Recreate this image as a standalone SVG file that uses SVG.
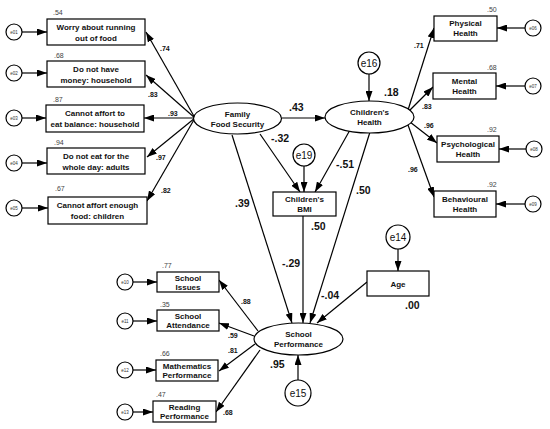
<svg xmlns="http://www.w3.org/2000/svg" width="550" height="429" viewBox="0 0 550 429">
<defs>
<marker id="ah" markerUnits="userSpaceOnUse" markerWidth="10" markerHeight="7" refX="10" refY="3.5" orient="auto">
<path d="M0,0 L10,3.5 L0,7 z" fill="#000"/>
</marker>
<style>
.b{fill:#fff;stroke:#000;stroke-width:1.2}
.t{font-family:"Liberation Sans",Arial,sans-serif;font-size:8px;font-weight:bold;text-anchor:middle;fill:#111}
.e{font-family:"Liberation Sans",Arial,sans-serif;font-size:4.5px;text-anchor:middle;fill:#333}
.E{font-family:"Liberation Sans",Arial,sans-serif;font-size:10px;text-anchor:middle;fill:#111}
.r{font-family:"Liberation Sans",Arial,sans-serif;font-size:7px;fill:#444}
.s{font-family:"Liberation Sans",Arial,sans-serif;font-size:7px;font-weight:bold;fill:#111}
.L{font-family:"Liberation Sans",Arial,sans-serif;font-size:10.5px;font-weight:bold;fill:#111}
.c line{stroke:#000;stroke-width:1.2;marker-end:url(#ah)}
</style>
</defs>
<rect width="550" height="429" fill="#fff"/>

<g class="c" id="connectors">
<line x1="22" y1="32" x2="47" y2="32"/>
<line x1="22" y1="73" x2="47" y2="73"/>
<line x1="22" y1="118" x2="46" y2="118"/>
<line x1="22" y1="163" x2="47" y2="163"/>
<line x1="22" y1="208" x2="48" y2="208"/>
<line x1="195" y1="118" x2="146" y2="32"/>
<line x1="195" y1="118" x2="146" y2="75"/>
<line x1="195" y1="118" x2="144" y2="118"/>
<line x1="195" y1="118" x2="147" y2="157"/>
<line x1="195" y1="118" x2="147" y2="201"/>
<line x1="282" y1="118" x2="325" y2="118"/>
<line x1="369" y1="74" x2="369" y2="101"/>
<line x1="408" y1="110" x2="434" y2="28"/>
<line x1="408" y1="112" x2="433" y2="87"/>
<line x1="410" y1="122" x2="437" y2="143"/>
<line x1="408" y1="125" x2="434" y2="197"/>
<line x1="525" y1="28" x2="497" y2="28"/>
<line x1="525" y1="86" x2="496" y2="86"/>
<line x1="526" y1="149" x2="499" y2="149"/>
<line x1="525" y1="204" x2="496" y2="204"/>
<line x1="304" y1="166" x2="304" y2="192"/>
<line x1="260" y1="134" x2="300" y2="192"/>
<line x1="350" y1="130" x2="315" y2="192"/>
<line x1="232" y1="135" x2="292" y2="323"/>
<line x1="370" y1="132" x2="310" y2="323"/>
<line x1="303" y1="216" x2="303" y2="323"/>
<line x1="367" y1="282" x2="317" y2="323"/>
<line x1="398" y1="249" x2="398" y2="271"/>
<line x1="298" y1="380" x2="298" y2="355"/>
<line x1="258" y1="331" x2="219" y2="280"/>
<line x1="254" y1="336" x2="219" y2="323"/>
<line x1="255" y1="344" x2="219" y2="371"/>
<line x1="260" y1="350" x2="216" y2="412"/>
<line x1="133" y1="282" x2="157" y2="282"/>
<line x1="133" y1="321" x2="157" y2="321"/>
<line x1="133" y1="370" x2="156" y2="370"/>
<line x1="133" y1="412" x2="153" y2="412"/>
</g>

<g id="labels">
<text class="s" x="160" y="51">.74</text>
<text class="s" x="148" y="97">.83</text>
<text class="s" x="168" y="116">.93</text>
<text class="s" x="156" y="160">.97</text>
<text class="s" x="161" y="193">.82</text>
<text class="L" x="289" y="111">.43</text>
<text class="L" x="384" y="96">.18</text>
<text class="s" x="414" y="48">.71</text>
<text class="s" x="422" y="109">.83</text>
<text class="s" x="424" y="128">.96</text>
<text class="s" x="408" y="172">.96</text>
<text class="L" x="271" y="142">-.32</text>
<text class="L" x="336" y="168">-.51</text>
<text class="L" x="356" y="194">.50</text>
<text class="L" x="235" y="207">.39</text>
<text class="L" x="311" y="230">.50</text>
<text class="L" x="282" y="267">-.29</text>
<text class="L" x="321" y="299">-.04</text>
<text class="L" x="405" y="309">.00</text>
<text class="L" x="270" y="368">.95</text>
<text class="s" x="241" y="304">.88</text>
<text class="s" x="228" y="338">.59</text>
<text class="s" x="228" y="353">.81</text>
<text class="s" x="223" y="415">.68</text>
</g>

<g id="n1"><circle class="b" cx="14" cy="32" r="8"/><text class="e" x="14" y="33.6">e01</text><rect class="b" x="47" y="19" width="98" height="26"/><text class="t" x="96" y="30">Worry about running</text><text class="t" x="96" y="41">out of food</text><text class="r" x="53" y="15">.54</text></g>
<g id="n2"><circle class="b" cx="14" cy="73" r="8"/><text class="e" x="14" y="74.6">e02</text><rect class="b" x="47" y="61" width="98" height="26"/><text class="t" x="96" y="72">Do not have</text><text class="t" x="96" y="83">money: household</text><text class="r" x="54" y="58">.68</text></g>
<g id="n3"><circle class="b" cx="14" cy="118" r="8"/><text class="e" x="14" y="119.6">e03</text><rect class="b" x="46" y="105" width="98" height="27"/><text class="t" x="95" y="116">Cannot affort to</text><text class="t" x="95" y="127">eat balance: household</text><text class="r" x="53" y="102">.87</text></g>
<g id="n4"><circle class="b" cx="14" cy="163" r="8"/><text class="e" x="14" y="164.6">e04</text><rect class="b" x="47" y="148" width="98" height="26"/><text class="t" x="96" y="159">Do not eat for the</text><text class="t" x="96" y="170">whole day: adults</text><text class="r" x="54" y="145">.94</text></g>
<g id="n5"><circle class="b" cx="14" cy="208" r="8"/><text class="e" x="14" y="209.6">e05</text><rect class="b" x="48" y="197" width="99" height="27"/><text class="t" x="97.5" y="208">Cannot affort enough</text><text class="t" x="97.5" y="219">food: children</text><text class="r" x="55" y="191">.67</text></g>

<g id="ffs"><ellipse class="b" cx="237.5" cy="118.5" rx="44" ry="15.5"/><text class="t" x="237.5" y="117">Family</text><text class="t" x="237.5" y="127">Food Security</text></g>
<g id="ch"><ellipse class="b" cx="369.5" cy="117" rx="44.5" ry="16"/><text class="t" x="369.5" y="115">Children's</text><text class="t" x="369.5" y="125">Health</text></g>
<g id="e16"><circle class="b" cx="369" cy="63" r="11"/><text class="E" x="369" y="66.5">e16</text></g>

<g id="ph"><rect class="b" x="434" y="16" width="63" height="25"/><text class="t" x="465.5" y="26">Physical</text><text class="t" x="465.5" y="36">Health</text><text class="r" x="487" y="12">.50</text><circle class="b" cx="533" cy="28" r="8"/><text class="e" x="533" y="29.6">e06</text></g>
<g id="mh"><rect class="b" x="433" y="73" width="63" height="26"/><text class="t" x="464.5" y="84">Mental</text><text class="t" x="464.5" y="94">Health</text><text class="r" x="487" y="70">.68</text><circle class="b" cx="533" cy="86" r="8"/><text class="e" x="533" y="87.6">e07</text></g>
<g id="psh"><rect class="b" x="437" y="136" width="62" height="26"/><text class="t" x="468" y="147">Psychological</text><text class="t" x="468" y="157">Health</text><text class="r" x="487" y="132">.92</text><circle class="b" cx="534" cy="149" r="8"/><text class="e" x="534" y="150.6">e08</text></g>
<g id="bh"><rect class="b" x="434" y="191" width="62" height="26"/><text class="t" x="465" y="202">Behavioural</text><text class="t" x="465" y="212">Health</text><text class="r" x="487" y="187">.92</text><circle class="b" cx="533" cy="204" r="8"/><text class="e" x="533" y="205.6">e09</text></g>

<g id="e19"><circle class="b" cx="304" cy="155" r="11"/><text class="E" x="304" y="158.5">e19</text></g>
<g id="bmi"><rect class="b" x="273" y="192" width="63" height="24"/><text class="t" x="304.5" y="202">Children's</text><text class="t" x="304.5" y="212">BMI</text></g>

<g id="e14"><circle class="b" cx="398" cy="237" r="12"/><text class="E" x="398" y="240.5">e14</text></g>
<g id="age"><rect class="b" x="367" y="271" width="62" height="25"/><text class="t" x="398" y="286.5">Age</text></g>

<g id="sp"><ellipse class="b" cx="298.5" cy="339" rx="44.5" ry="16"/><text class="t" x="298.5" y="337">School</text><text class="t" x="298.5" y="347">Performance</text></g>
<g id="e15"><circle class="b" cx="298" cy="393" r="13"/><text class="E" x="298" y="396.5">e15</text></g>

<g id="si"><rect class="b" x="157" y="272" width="62" height="20"/><text class="t" x="188" y="280.5">School</text><text class="t" x="188" y="289.5">Issues</text><text class="r" x="162" y="268">.77</text><circle class="b" cx="125" cy="282" r="8"/><text class="e" x="125" y="283.6">e10</text></g>
<g id="sa"><rect class="b" x="157" y="310" width="62" height="21"/><text class="t" x="188" y="319">School</text><text class="t" x="188" y="328">Attendance</text><text class="r" x="160" y="307">.35</text><circle class="b" cx="125" cy="321" r="8"/><text class="e" x="125" y="322.6">e11</text></g>
<g id="mp"><rect class="b" x="156" y="360" width="62" height="21"/><text class="t" x="187" y="369">Mathematics</text><text class="t" x="187" y="378">Performance</text><text class="r" x="160" y="356">.66</text><circle class="b" cx="125" cy="370" r="8"/><text class="e" x="125" y="371.6">e12</text></g>
<g id="rp"><rect class="b" x="153" y="401" width="63" height="21"/><text class="t" x="184.5" y="410">Reading</text><text class="t" x="184.5" y="419">Performance</text><text class="r" x="156" y="397">.47</text><circle class="b" cx="125" cy="412" r="8"/><text class="e" x="125" y="413.6">e13</text></g>
</svg>
